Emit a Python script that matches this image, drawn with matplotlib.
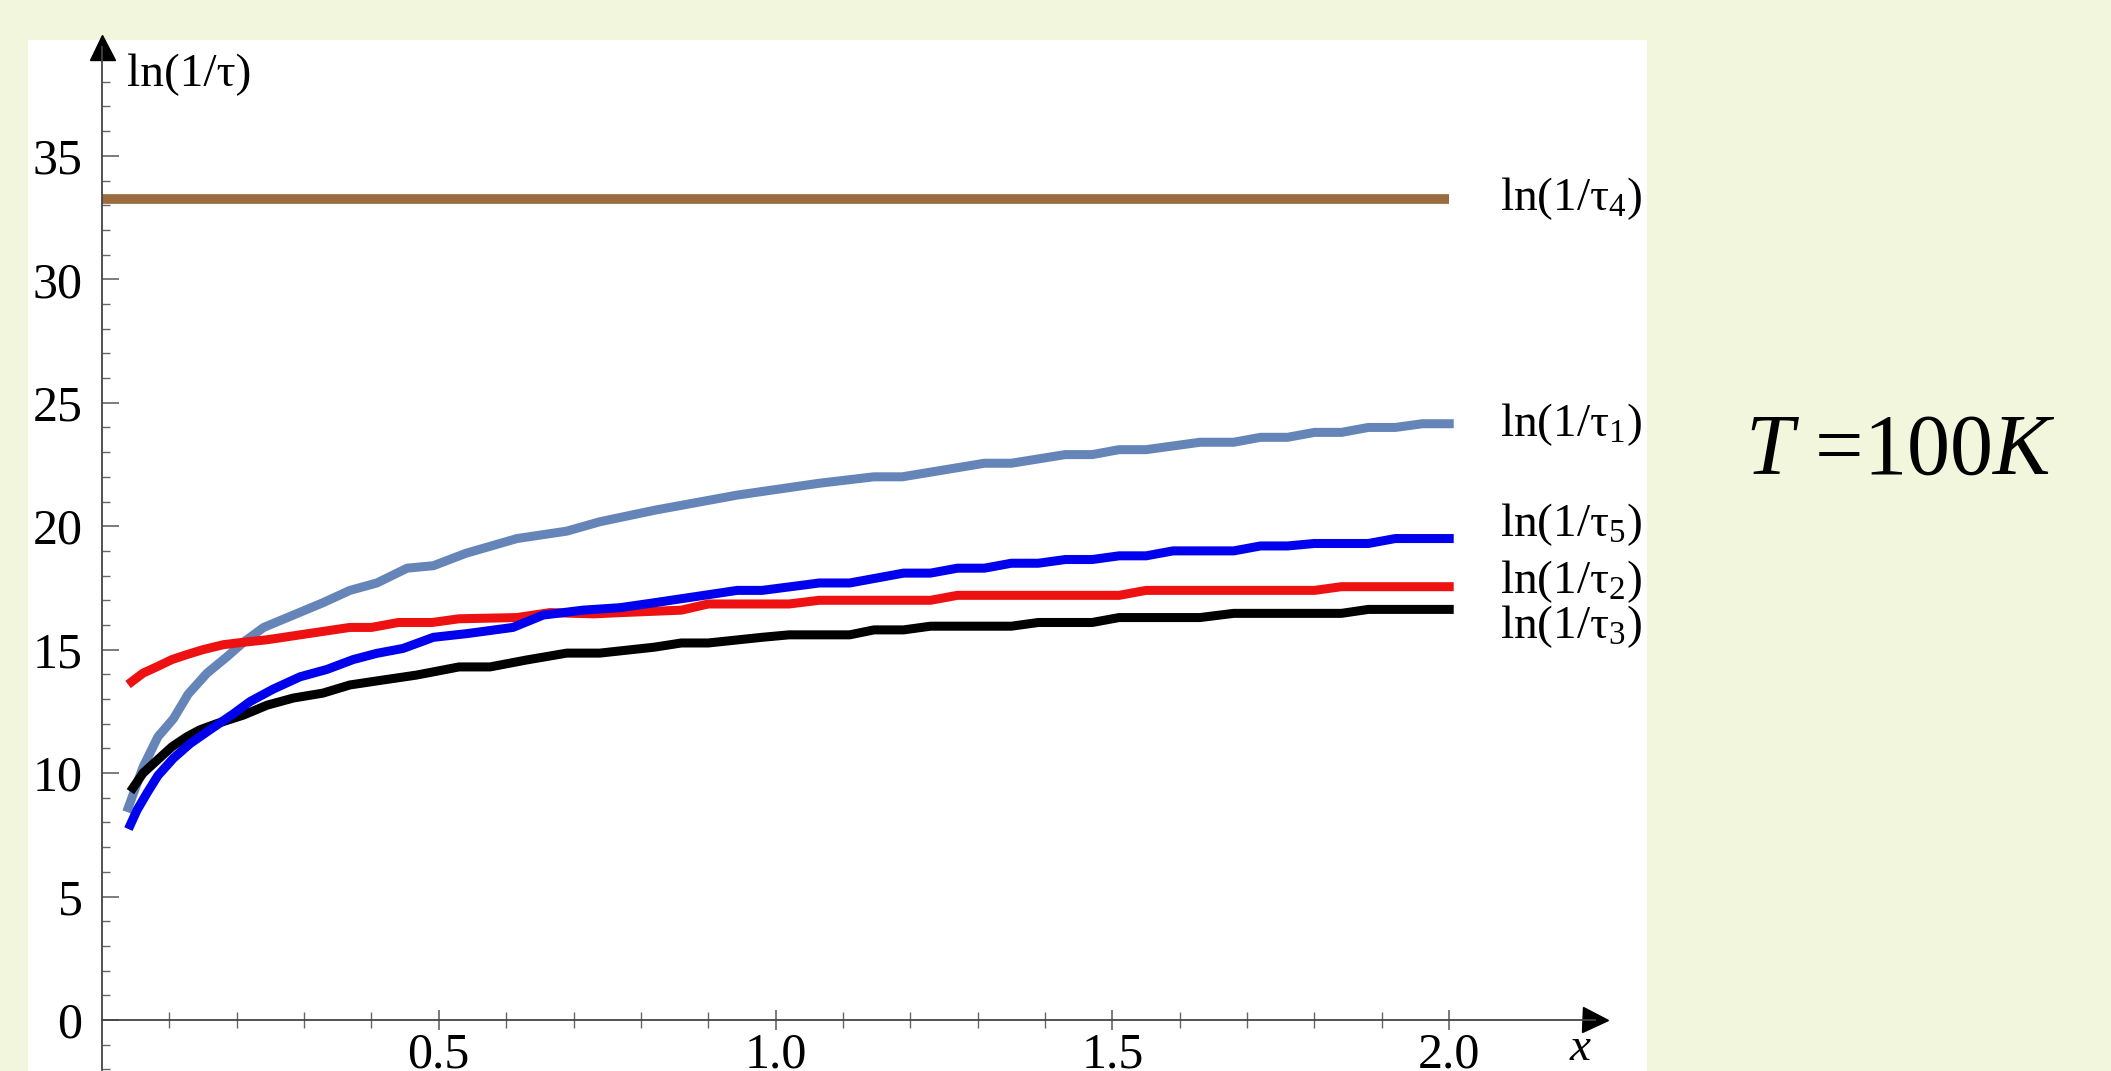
import matplotlib
matplotlib.use("Agg")
import matplotlib.pyplot as plt
from matplotlib.patches import Rectangle
from matplotlib.ticker import MultipleLocator, FixedLocator, FormatStrFormatter

plt.rcParams['font.family'] = ['Liberation Serif', 'DejaVu Serif']
plt.rcParams['mathtext.fontset'] = 'custom'
plt.rcParams['mathtext.rm'] = 'Liberation Serif'
plt.rcParams['mathtext.it'] = 'Liberation Serif:italic'

# values
x_tau1 = [0.039, 0.061, 0.083, 0.106, 0.128, 0.156, 0.185, 0.21, 0.24, 0.284, 0.328, 0.368,
          0.408, 0.453, 0.492, 0.54, 0.616, 0.69, 0.739, 0.821, 0.943, 1.065, 1.146, 1.188,
          1.31, 1.35, 1.43, 1.47, 1.51, 1.55, 1.63, 1.68, 1.72, 1.76, 1.80, 1.84, 1.88, 1.92,
          1.96, 2.0]
y_tau1 = [8.6, 10.25, 11.47, 12.2, 13.2, 14.05, 14.7, 15.3, 15.9, 16.4, 16.9, 17.4,
          17.7, 18.3, 18.4, 18.9, 19.5, 19.8, 20.18, 20.65, 21.26, 21.74, 22.0, 22.0,
          22.55, 22.55, 22.9, 22.9, 23.1, 23.1, 23.4, 23.4, 23.6, 23.6, 23.8, 23.8, 24.0, 24.0,
          24.15, 24.15]

x_tau5 = [0.042, 0.052, 0.067, 0.083, 0.106, 0.131, 0.16, 0.195, 0.22, 0.254, 0.294, 0.334,
          0.373, 0.408, 0.447, 0.492, 0.542, 0.61, 0.655, 0.714, 0.769, 0.82, 0.943, 0.98,
          1.065, 1.11, 1.19, 1.23, 1.27, 1.31, 1.35, 1.39, 1.43, 1.47, 1.51, 1.55, 1.59, 1.68,
          1.72, 1.76, 1.80, 1.88, 1.92, 2.0]
y_tau5 = [7.9, 8.5, 9.2, 9.9, 10.6, 11.2, 11.75, 12.4, 12.9, 13.4, 13.9, 14.2,
          14.6, 14.85, 15.05, 15.5, 15.65, 15.9, 16.4, 16.6, 16.7, 16.9, 17.4, 17.4,
          17.7, 17.7, 18.1, 18.1, 18.3, 18.3, 18.5, 18.5, 18.65, 18.65, 18.8, 18.8, 19.0, 19.0,
          19.2, 19.2, 19.3, 19.3, 19.5, 19.5]

x_tau2 = [0.044, 0.061, 0.081, 0.104, 0.126, 0.15, 0.18, 0.21, 0.245, 0.294, 0.368, 0.40,
          0.44, 0.49, 0.53, 0.616, 0.665, 0.73, 0.77, 0.86, 0.90, 1.02, 1.065, 1.23, 1.27,
          1.51, 1.55, 1.80, 1.84, 2.0]
y_tau2 = [13.7, 14.05, 14.3, 14.6, 14.8, 15.0, 15.2, 15.3, 15.4, 15.6, 15.9, 15.9,
          16.1, 16.1, 16.25, 16.3, 16.5, 16.45, 16.5, 16.6, 16.85, 16.85, 17.0, 17.0, 17.2,
          17.2, 17.4, 17.4, 17.55, 17.55]

x_tau3 = [0.046, 0.061, 0.081, 0.104, 0.126, 0.145, 0.17, 0.21, 0.245, 0.284, 0.328, 0.368,
          0.417, 0.467, 0.53, 0.576, 0.63, 0.69, 0.739, 0.82, 0.86, 0.90, 0.98, 1.02, 1.11,
          1.146, 1.19, 1.23, 1.35, 1.39, 1.47, 1.51, 1.63, 1.68, 1.84, 1.88, 2.0]
y_tau3 = [9.4, 10.0, 10.5, 11.07, 11.47, 11.75, 12.0, 12.35, 12.75, 13.04, 13.24, 13.57,
          13.77, 13.97, 14.3, 14.3, 14.58, 14.86, 14.86, 15.1, 15.27, 15.27, 15.5, 15.6, 15.6,
          15.8, 15.8, 15.95, 15.95, 16.1, 16.1, 16.3, 16.3, 16.47, 16.47, 16.63, 16.63]

x_tau4 = [0.0, 2.0]
y_tau4 = [33.25, 33.25]

labels = [r"ln(1/τ$_4$)", r"ln(1/τ$_1$)", r"ln(1/τ$_5$)", r"ln(1/τ$_2$)", r"ln(1/τ$_3$)"]
label_y = [33.25, 24.1, 20.05, 17.75, 15.95]

bg = '#f2f6dc'
fig = plt.figure(figsize=(21.11, 10.71), dpi=100, facecolor=bg)

# white panel behind the plot, drawn in its own background axes
panel = fig.add_axes([0, 0, 1, 1], zorder=-5)
panel.set_axis_off()
panel.add_patch(Rectangle((28 / 2111, 0), (1647 - 28) / 2111, (1071 - 40) / 1071,
                          transform=panel.transAxes, facecolor='white', edgecolor='none'))

ax = fig.add_axes([102 / 2111, 0.0, (1595 - 102) / 2111, (1071 - 47) / 1071])
ax.set_facecolor('none')
ax.set_xlim(0, (1595 - 102) / 673.6)
ax.set_ylim(-51 / 24.69, (1020 - 47) / 24.69)

ax.plot(x_tau4, y_tau4, color='#9b6b3f', lw=7, solid_capstyle='butt')
ax.plot(x_tau1, y_tau1, color='#6585b8', lw=6.5)
ax.plot(x_tau2, y_tau2, color='#ee1111', lw=6.5)
ax.plot(x_tau3, y_tau3, color='black', lw=6.5)
ax.plot(x_tau5, y_tau5, color='#0000ee', lw=6.5)

for s in ['top', 'right']:
    ax.spines[s].set_visible(False)
ax.spines['bottom'].set_position(('data', 0))
for s in ['left', 'bottom']:
    ax.spines[s].set_color('#444444')
    ax.spines[s].set_linewidth(1.3)

# arrow heads on the axes
ax.plot(1, 0, '>', color='black', ms=18, transform=ax.get_yaxis_transform(), clip_on=False)
ax.plot(0, 1, '^', color='black', ms=18, transform=ax.get_xaxis_transform(), clip_on=False)

ax.xaxis.set_major_locator(FixedLocator([0.5, 1.0, 1.5, 2.0]))
ax.xaxis.set_major_formatter(FormatStrFormatter('%.1f'))
ax.xaxis.set_minor_locator(FixedLocator([i / 10 for i in range(1, 21)]))
ax.yaxis.set_major_locator(MultipleLocator(5))
ax.yaxis.set_minor_locator(MultipleLocator(1))

ax.tick_params(axis='x', which='major', direction='inout', length=14, width=1.2,
               color='#666666', labelsize=36, pad=2)
ax.tick_params(axis='x', which='minor', direction='inout', length=11, width=1.0, color='#666666')
ax.tick_params(axis='y', which='major', direction='in', length=12, width=1.2,
               color='#666666', labelsize=36, pad=14)
ax.tick_params(axis='y', which='minor', direction='in', length=6, width=1.0, color='#666666')

ax.text(0.037, 38.3, "ln(1/τ)", fontsize=34, va='center', ha='left')
ax.text(2.195, -0.3, "x", fontsize=34, style='italic', va='top', ha='center')

for lab, yy in zip(labels, label_y):
    ax.text(2.075, yy, lab, fontsize=34, va='center', ha='left', clip_on=False)

fig.text(1745 / 2111, 1 - 453 / 1071, r"$T$ =100$K$", fontsize=62, va='center', ha='left')

fig.savefig("out.png", dpi=100, facecolor=bg)
